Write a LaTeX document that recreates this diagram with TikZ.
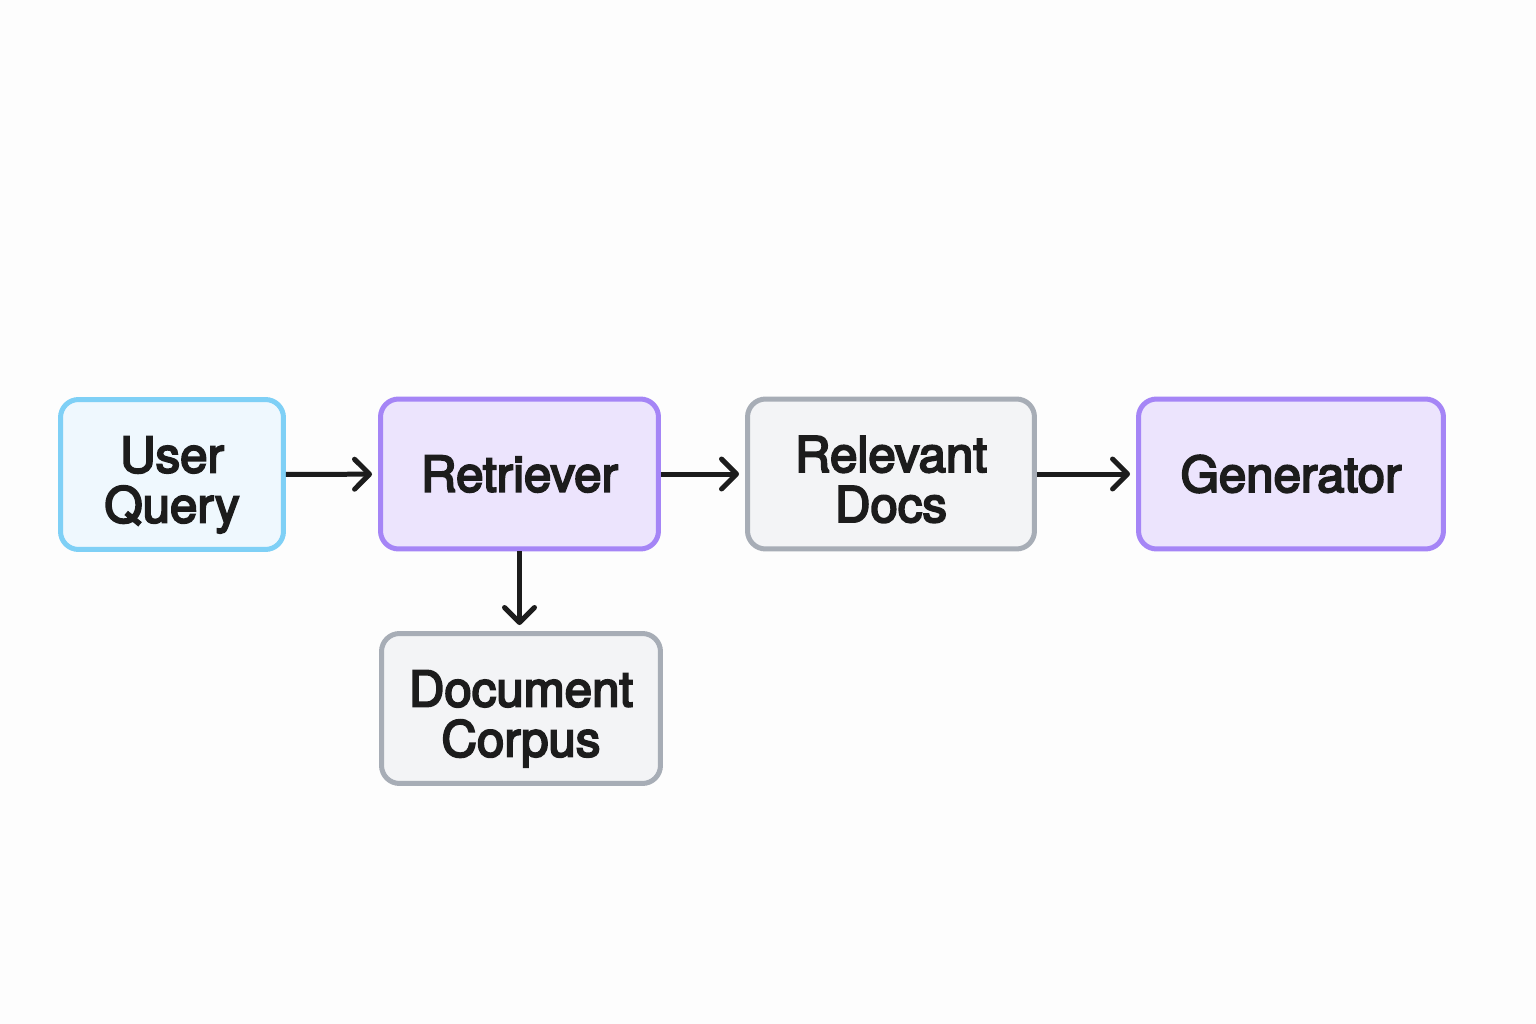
\documentclass[tikz,border=0pt]{standalone}
\usepackage{xcolor}
\usepackage{fontspec}
\setmainfont{TeX Gyre Heros}[FakeBold=4]
\usetikzlibrary{arrows.meta}

\definecolor{bgpage}{HTML}{FDFDFD}
\definecolor{queryfill}{HTML}{EFF8FE}
\definecolor{querydraw}{HTML}{7FD0F6}
\definecolor{modelfill}{HTML}{ECE4FD}
\definecolor{modeldraw}{HTML}{A585F6}
\definecolor{docfill}{HTML}{F3F4F6}
\definecolor{docdraw}{HTML}{A7ADB6}
\definecolor{inkcol}{HTML}{1C1C1C}

\begin{document}
\begin{tikzpicture}[x=0.02cm, y=-0.02cm,
    box/.style={rectangle, rounded corners=0.36cm, line width=0.1cm,
        minimum height=3cm, align=center, text=inkcol,
        font=\fontsize{28}{28.5}\selectfont},
    twoline/.style={text height=1.92cm, text depth=0pt},
    querybox/.style={box, fill=queryfill, draw=querydraw},
    modelbox/.style={box, fill=modelfill, draw=modeldraw},
    docbox/.style={box, fill=docfill, draw=docdraw},
    flow/.style={draw=inkcol, line width=0.1cm,
        -{Straight Barb[length=0.3cm, width=0.6cm, line cap=round, line join=round]},
        shorten >=0.12cm}]
    \fill[bgpage] (0, 0) rectangle (1536, 1024);
    \useasboundingbox (0, 0) rectangle (1536, 1024);

    \node (query) at (172, 474.5) [querybox, twoline, minimum width=4.46cm] {User\\Query};
    \node (retriever) at (519.5, 474) [modelbox, minimum width=5.56cm] {Retriever};
    \node (docs) at (891, 474) [docbox, twoline, minimum width=5.74cm] {Relevant\\Docs};
    \node (generator) at (1291, 474) [modelbox, minimum width=6.1cm] {Generator};
    \node (corpus) at (521, 708.5) [docbox, twoline, minimum width=5.58cm] {Document\\Corpus};

    \draw[flow] (query) -- (retriever);
    \draw[flow] (retriever) -- (docs);
    \draw[flow] (docs) -- (generator);
    \draw[flow] (retriever.south) -- (retriever.south |- corpus.north);
\end{tikzpicture}
\end{document}
